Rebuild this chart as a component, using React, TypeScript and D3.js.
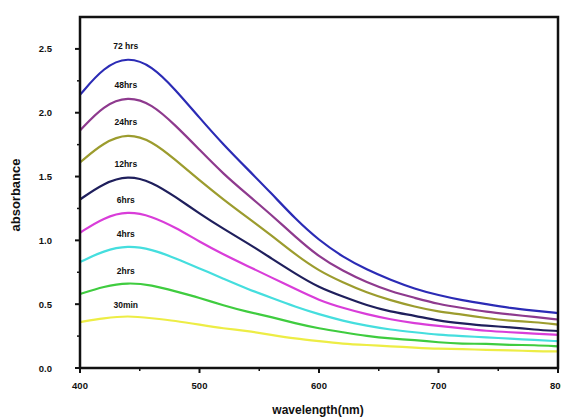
import React from 'react'
import * as d3 from 'd3'

const wavelengths = [400, 420, 440, 460, 480, 500, 520, 540, 560, 580, 600, 620, 640, 660, 680, 700, 720, 740, 760, 780, 800]

const seriesNames = ['72 hrs', '48hrs', '24hrs', '12hrs', '6hrs', '4hrs', '2hrs', '30min']
const seriesColors = ['#2b2bb5', '#8e3a8e', '#9c9c2e', '#1f1f5c', '#d93dd9', '#45dede', '#3fcc3f', '#eded45']

const hrs72 = [2.14, 2.36, 2.44, 2.37, 2.18, 1.96, 1.75, 1.56, 1.37, 1.17, 1.00, 0.87, 0.77, 0.69, 0.62, 0.57, 0.53, 0.50, 0.47, 0.45, 0.43]
const hrs48 = [1.86, 2.06, 2.13, 2.07, 1.90, 1.71, 1.52, 1.36, 1.20, 1.03, 0.87, 0.76, 0.67, 0.60, 0.55, 0.50, 0.47, 0.44, 0.42, 0.40, 0.38]
const hrs24 = [1.61, 1.77, 1.84, 1.78, 1.63, 1.47, 1.32, 1.18, 1.04, 0.89, 0.76, 0.67, 0.59, 0.53, 0.48, 0.44, 0.42, 0.39, 0.37, 0.36, 0.34]
const hrs12 = [1.32, 1.45, 1.51, 1.46, 1.34, 1.21, 1.09, 0.98, 0.86, 0.74, 0.63, 0.56, 0.49, 0.44, 0.41, 0.37, 0.35, 0.33, 0.32, 0.30, 0.29]
const hrs6 = [1.06, 1.18, 1.23, 1.19, 1.10, 0.99, 0.89, 0.80, 0.71, 0.62, 0.53, 0.47, 0.42, 0.38, 0.35, 0.33, 0.31, 0.29, 0.28, 0.27, 0.26]
const hrs4 = [0.83, 0.92, 0.96, 0.93, 0.86, 0.78, 0.70, 0.62, 0.55, 0.48, 0.42, 0.37, 0.33, 0.30, 0.28, 0.26, 0.25, 0.24, 0.23, 0.22, 0.21]
const hrs2 = [0.58, 0.64, 0.67, 0.65, 0.60, 0.55, 0.49, 0.44, 0.40, 0.35, 0.31, 0.28, 0.25, 0.23, 0.22, 0.20, 0.19, 0.19, 0.18, 0.18, 0.17]
const min30 = [0.36, 0.39, 0.41, 0.39, 0.37, 0.34, 0.31, 0.29, 0.26, 0.23, 0.21, 0.19, 0.18, 0.17, 0.16, 0.15, 0.15, 0.14, 0.14, 0.13, 0.13]

const seriesValues = [hrs72, hrs48, hrs24, hrs12, hrs6, hrs4, hrs2, min30]

const xTicks = [400, 500, 600, 700, 800]
const xMinorTicks = [450, 550, 650, 750]
const yTicks = [0, 0.5, 1.0, 1.5, 2.0, 2.5]
const yMinorTicks = [0.25, 0.75, 1.25, 1.75, 2.25]

const width = 561
const height = 419
const margin = { left: 80, right: 3, top: 17, bottom: 51 }

export default function App() {
  const x = d3.scaleLinear().domain([400, 800]).range([margin.left, width - margin.right])
  const y = d3.scaleLinear().domain([0, 2.75]).range([height - margin.bottom, margin.top])

  const line = d3.line<number>()
    .x((d, i) => x(wavelengths[i]))
    .y(d => y(d))
    .curve(d3.curveBasis)

  const font = '"Liberation Sans", Arial, sans-serif'
  const x0 = x.range()[0], x1 = x.range()[1]
  const y0 = y.range()[0], y1 = y.range()[1]

  return (
    <svg width={width} height={height} style={{ position: 'absolute', left: 0, top: 0, background: '#fff' }}>
      {/* curves */}
      {seriesValues.map((vals, i) => (
        <path key={i} d={line(vals) || ''} fill="none" stroke={seriesColors[i]} strokeWidth={2.2} strokeLinejoin="round" />
      ))}

      {/* curve labels above each peak */}
      {seriesValues.map((vals, i) => {
        const peak = d3.max(vals) as number
        const peakWl = wavelengths[vals.indexOf(peak)]
        return (
          <text key={'l' + i} x={x(peakWl) - 2} y={y(peak) - 8} textAnchor="middle"
            fontFamily={font} fontWeight="bold" fontSize={8.5} fill="#111">
            {seriesNames[i]}
          </text>
        )
      })}

      {/* frame */}
      <rect x={x0} y={y1} width={x1 - x0} height={y0 - y1} fill="none" stroke="#111" strokeWidth={2.5} />

      {/* y ticks */}
      {yTicks.map(t => (
        <g key={'y' + t}>
          <line x1={x0 - 5} x2={x0} y1={y(t)} y2={y(t)} stroke="#111" strokeWidth={2} />
          <text x={x0 - 28} y={y(t) + 3.5} textAnchor="end" fontFamily={font} fontWeight="bold" fontSize={9.5} fill="#111">
            {d3.format('.1f')(t)}
          </text>
        </g>
      ))}
      {yMinorTicks.map(t => (
        <line key={'ym' + t} x1={x0 - 3} x2={x0} y1={y(t)} y2={y(t)} stroke="#111" strokeWidth={1.5} />
      ))}

      {/* x ticks */}
      {xTicks.map(t => (
        <g key={'x' + t}>
          <line x1={x(t)} x2={x(t)} y1={y0} y2={y0 + 5} stroke="#111" strokeWidth={2} />
          <text x={x(t)} y={y0 + 21} textAnchor="middle" fontFamily={font} fontWeight="bold" fontSize={9.5} fill="#111">
            {t}
          </text>
        </g>
      ))}
      {xMinorTicks.map(t => (
        <line key={'xm' + t} x1={x(t)} x2={x(t)} y1={y0} y2={y0 + 3} stroke="#111" strokeWidth={1.5} />
      ))}

      {/* axis titles */}
      <text transform={`translate(20, 195) rotate(-90)`} textAnchor="middle" fontFamily={font} fontWeight="bold" fontSize={13} fill="#111">
        absorbance
      </text>
      <text x={318} y={414} textAnchor="middle" fontFamily={font} fontWeight="bold" fontSize={12} fill="#111">
        wavelength(nm)
      </text>
    </svg>
  )
}
